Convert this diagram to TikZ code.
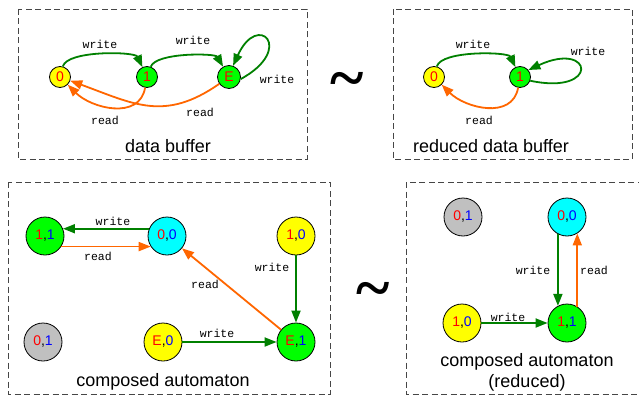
\documentclass[tikz,border=0pt]{standalone}
\usepackage{fontspec}
\setmainfont{Liberation Sans}
\setmonofont{Liberation Mono}
\newfontfamily\tildefont{Liberation Serif}
\usetikzlibrary{arrows.meta}
\definecolor{egreen}{RGB}{0,128,0}
\definecolor{eorange}{RGB}{255,102,0}
\definecolor{ngreen}{RGB}{0,255,0}
\definecolor{nyellow}{RGB}{255,255,0}
\definecolor{ncyan}{RGB}{0,255,255}
\definecolor{ngray}{RGB}{192,192,192}
\definecolor{tred}{RGB}{255,0,0}
\definecolor{tblue}{RGB}{0,0,255}
\definecolor{boxgray}{RGB}{70,70,70}
\newcommand{\pr}[2]{\textcolor{tred}{#1},\textcolor{tblue}{#2}}
\begin{document}
\begin{tikzpicture}[x=1pt,y=1pt,
  state/.style={circle,draw=black,line width=0.8pt,inner sep=0pt,font=\fontsize{14}{14}\selectfont},
  smallst/.style={state,minimum size=21pt,text=tred},
  bigst/.style={state,minimum size=38pt},
  wr/.style={draw=egreen,line width=1.8pt,-{Triangle[length=12pt,width=9pt]}},
  rd/.style={draw=eorange,line width=1.8pt,-{Triangle[length=12pt,width=9pt]}},
  lbl/.style={font=\ttfamily\fontsize{11.5}{11.5}\selectfont,inner sep=0pt},
  captext/.style={font=\fontsize{18}{21}\selectfont,align=center,inner sep=0pt},
  frame/.style={draw=boxgray,line width=0.9pt,dash pattern=on 6pt off 3.5pt},
  tildest/.style={inner sep=0pt,font=\tildefont\bfseries\fontsize{64}{64}\selectfont}
]
\clip (0,0) rectangle (639,-396);
% frames
\draw[frame] (18,-9) rectangle (307,-159);
\draw[frame] (393,-9) rectangle (632,-159);
\draw[frame] (8,-182) rectangle (330,-394);
\draw[frame] (406,-182) rectangle (650,-394);
% tildes
\node[tildest,anchor=base] (t1) at (347,-99) {\symbol{126}};
\node[tildest,anchor=base] (t2) at (373,-309) {\symbol{126}};

% ---- data buffer
\node[smallst,fill=nyellow] (d0) at (60,-77) {0};
\node[smallst,fill=ngreen] (d1) at (147,-77) {1};
\node[smallst,fill=ngreen,minimum size=23pt] (dE) at (229,-77) {E};
\draw[wr] (d0) to[out=75,in=115,looseness=0.55] (d1);
\draw[wr] (d1) to[out=70,in=120,looseness=0.55] (dE);
\draw[wr] (dE.-10) .. controls +(55,30) and +(25,55) .. (dE.70);
\draw[rd] (d1) to[out=-100,in=-45,looseness=1.1] (d0);
\draw[rd] (dE) to[out=-145,in=-20,looseness=1.15] (d0);
\node[lbl] (dl1) at (100,-44) {write};
\node[lbl] (dl2) at (193,-40) {write};
\node[lbl] (dl3) at (277,-79) {write};
\node[lbl] (dl4) at (105,-120) {read};
\node[lbl] (dl5) at (200,-112) {read};
\node[captext] (dcap) at (168,-146) {data buffer};

% ---- reduced data buffer
\node[smallst,fill=nyellow] (r0) at (434,-77) {0};
\node[smallst,fill=ngreen] (r1) at (520,-77) {1};
\draw[wr] (r0) to[out=75,in=115,looseness=0.55] (r1);
\draw[wr] (r1.-20) .. controls +(70,-15) and +(65,30) .. (r1.40);
\draw[rd] (r1) to[out=-100,in=-45,looseness=1.1] (r0);
\node[lbl] (rl1) at (473,-44) {write};
\node[lbl] (rl2) at (588,-51) {write};
\node[lbl] (rl3) at (479,-120) {read};
\node[captext] (rcap) at (491,-146) {reduced data buffer};

% ---- composed automaton
\node[bigst,fill=ngreen] (a11) at (45,-236) {\pr{1}{1}};
\node[bigst,fill=ncyan] (a00) at (167,-236) {\pr{0}{0}};
\node[bigst,fill=nyellow] (a10) at (296,-236) {\pr{1}{0}};
\node[bigst,fill=ngray] (a01) at (43,-342) {\pr{0}{1}};
\node[bigst,fill=nyellow] (aE0) at (163,-342) {\pr{E}{0}};
\node[bigst,fill=ngreen] (aE1) at (296,-342) {\pr{E}{1}};
\draw[wr] (a00.158) -- (a11.22);
\draw[rd] (a11.-33) -- (a00.213);
\draw[rd] (aE1) -- (a00);
\draw[wr] (a10) -- (aE1);
\draw[wr] (aE0) -- (aE1);
\node[lbl] (al1) at (113,-221) {write};
\node[lbl] (al2) at (98,-256) {read};
\node[lbl] (al3) at (205,-284) {read};
\node[lbl] (al4) at (272,-267) {write};
\node[lbl] (al5) at (217,-333) {write};
\node[captext] (acap) at (163,-382) {composed automaton};

% ---- composed automaton (reduced)
\node[bigst,fill=ngray] (b01) at (463,-217) {\pr{0}{1}};
\node[bigst,fill=ncyan] (b00) at (567,-217) {\pr{0}{0}};
\node[bigst,fill=nyellow] (b10) at (462,-323) {\pr{1}{0}};
\node[bigst,fill=ngreen] (b11) at (567,-323) {\pr{1}{1}};
\draw[wr] (b00.242) -- (b11.118);
\draw[rd] (b11.58) -- (b00.302);
\draw[wr] (b10) -- (b11);
\node[lbl] (bl1) at (533,-270) {write};
\node[lbl] (bl2) at (594,-270) {read};
\node[lbl] (bl3) at (508,-317) {write};
\node[captext] (bcap) at (527,-372) {composed automaton\\(reduced)};
\end{tikzpicture}
\end{document}
